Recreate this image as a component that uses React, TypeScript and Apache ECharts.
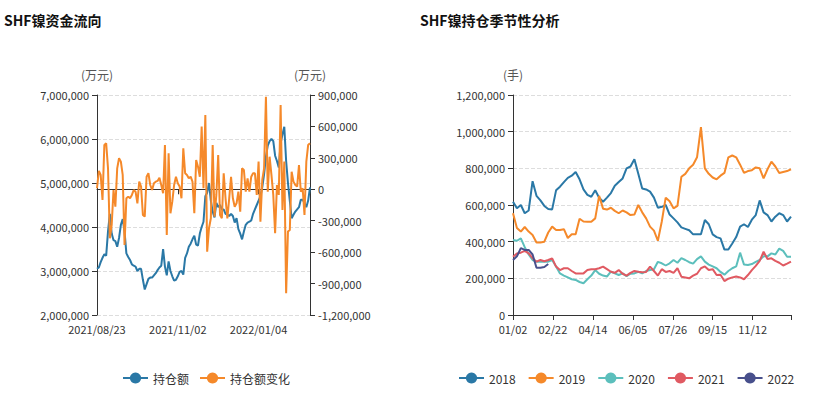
import React, { useEffect, useRef } from 'react';
import * as echarts from 'echarts';

const FONT = "'Noto Sans CJK SC', 'Noto Sans', sans-serif";

// ---------- Left chart: SHF镍资金流向 ----------
const flowStart = '2021-08-23';
const flowCount = 117;
const flowHolidays = [
  '2021-09-20', '2021-09-21', '2021-10-01', '2021-10-04', '2021-10-05', '2021-10-06', '2021-10-07',
  '2022-01-03', '2022-01-31', '2022-02-01', '2022-02-02', '2022-02-03', '2022-02-04',
];

// 持仓额 (万元, in millions)
const positionMillions = [
  3.05, 3.08, 3.2, 3.3, 3.38, 3.35, 3.9, 4.3, 3.85, 3.7,
  3.68, 3.55, 3.75, 4.05, 4.18, 3.9, 3.4, 3.32, 3.25, 3.15,
  3.12, 3.1, 3.0, 3.05, 3.05, 2.8, 2.58, 2.7, 2.82, 2.85,
  2.85, 2.9, 2.95, 3.02, 3.08, 3.12, 3.5, 3.1, 2.9, 3.22,
  3.0, 2.88, 2.78, 2.8, 2.88, 2.98, 3.0, 2.92, 3.3, 3.4,
  3.55, 3.62, 3.72, 3.8, 3.6, 3.58, 3.85, 4.0, 4.12, 4.7,
  4.78, 5.0, 4.6, 4.35, 4.22, 4.55, 4.45, 4.5, 4.4, 4.4,
  4.3, 4.28, 4.25, 4.3, 4.25, 4.1, 4.2, 3.95, 3.85, 3.72,
  3.9, 4.05, 4.1, 4.12, 4.15, 4.3, 4.4, 4.5, 4.6, 4.7,
  4.9, 5.2, 5.6, 5.85, 5.95, 6.0, 5.95, 5.62, 5.5, 5.35,
  5.9, 6.1, 6.28, 5.5, 5.0, 4.6, 4.2, 4.28, 4.35, 4.4,
  4.45, 4.62, 4.62, 4.55, 4.45, 4.6, 4.9,
];

// 持仓额变化 (万元, in thousands)
const changeThousands = [
  10, 175, 137, -102, 423, 439, 200, -468, -340, -7,
  -166, 200, 296, 264, 137, -531, -86, -70, -86, -54,
  -7, -23, -134, 73, 26, -245, -261, 120, 153, 41,
  -7, 57, 73, 80, 111, 41, -38, 423, -436, 343,
  -229, -118, 41, 120, 57, 26, -86, 391, 153, 137,
  105, 120, 73, -229, 280, 216, 120, 598, 10, 709,
  -595, -372, -277, 423, -261, -54, 327, -245, -277, 153,
  -86, -277, -86, 120, -86, -166, -134, -23, -213, 200,
  184, -23, 105, -23, 120, 153, 153, -54, 264, -309,
  89, 200, 884, -23, 311, 137, -54, -420, 41, -54,
  805, -197, 264, -993, -404, -388, 168, 73, 41, 26,
  232, -23, 10, -245, 264, 423, 440,
];

// ---------- Right chart: SHF镍持仓季节性分析 ----------
const seasonExcluded = ['01/01', '05/01', '10/01', '10/02', '10/03', '10/04', '10/05', '10/06', '10/07'];
const seasonSampleStep = 5;
const seasonYears = ['2018', '2019', '2020', '2021', '2022'];

// 持仓 (手, in thousands), one value every 5 categories
const hold2018 = [
  618, 582, 600, 555, 570, 730, 650, 625, 595, 578,
  576, 680, 700, 725, 748, 760, 780, 740, 685, 655,
  645, 680, 640, 618, 640, 665, 705, 725, 745, 800,
  810, 850, 770, 690, 685, 673, 640, 585, 590, 600,
  548, 527, 505, 478, 470, 462, 440, 440, 440, 518,
  495, 440, 425, 418, 357, 357, 390, 425, 482, 495,
  480, 520, 545, 625, 560, 545, 510, 536, 555, 545,
  510, 536,
];
const hold2019 = [
  555, 475, 455, 480, 455, 436, 395, 395, 400, 450,
  482, 464, 464, 468, 420, 440, 440, 525, 510, 509,
  509, 527, 650, 580, 575, 585, 568, 555, 570, 560,
  545, 548, 600, 560, 527, 482, 460, 405, 510, 640,
  620, 582, 595, 754, 770, 800, 820, 860, 1025, 800,
  770, 750, 740, 760, 775, 860, 870, 860, 820, 775,
  785, 790, 805, 800, 745, 795, 836, 810, 775, 780,
  785, 795,
];
const hold2020 = [
  409, 405, 418, 370, 330, 300, 291, 291, 291, 291,
  300, 264, 227, 215, 205, 195, 191, 180, 173, 195,
  215, 245, 225, 215, 210, 236, 227, 218, 227, 212,
  225, 227, 236, 227, 240, 245, 250, 290, 282, 270,
  282, 300, 285, 310, 300, 288, 280, 305, 320, 291,
  275, 265, 255, 235, 220, 240, 255, 265, 340, 275,
  273, 278, 290, 300, 320, 320, 336, 330, 362, 350,
  318, 318,
];
const hold2021 = [
  318, 336, 340, 350, 336, 310, 291, 300, 293, 300,
  309, 264, 245, 255, 255, 240, 227, 227, 227, 245,
  250, 250, 255, 264, 250, 236, 230, 245, 225, 215,
  230, 240, 236, 233, 235, 264, 240, 215, 250, 235,
  240, 230, 255, 209, 205, 200, 215, 225, 255, 265,
  245, 250, 218, 220, 185, 198, 205, 210, 205, 195,
  218, 245, 268, 295, 345, 305, 309, 295, 285, 270,
  280, 291,
];
const hold2022 = [300, 320, 365, 355, 355, 330, 258, 258, 262, 278];

const seasonColors = ['#2a78a6', '#f5892a', '#5cbfbc', '#e05a62', '#48508c'];

function pad(n: number) {
  return String(n).padStart(2, '0');
}

function tradingDays(start: string, count: number, holidays: string[]): string[] {
  const out: string[] = [];
  const d = new Date(start + 'T00:00:00Z');
  while (out.length < count) {
    const dow = d.getUTCDay();
    const y = d.getUTCFullYear();
    const m = pad(d.getUTCMonth() + 1);
    const dd = pad(d.getUTCDate());
    if (dow !== 0 && dow !== 6 && !holidays.includes(`${y}-${m}-${dd}`)) out.push(`${y}/${m}/${dd}`);
    d.setUTCDate(d.getUTCDate() + 1);
  }
  return out;
}

function seasonCategories(): string[] {
  const out: string[] = [];
  const d = new Date(Date.UTC(2021, 0, 1));
  while (d.getUTCFullYear() === 2021) {
    const md = `${pad(d.getUTCMonth() + 1)}/${pad(d.getUTCDate())}`;
    if (!seasonExcluded.includes(md)) out.push(md);
    d.setUTCDate(d.getUTCDate() + 1);
  }
  return out;
}

const fmt = (v: number) => v.toLocaleString('en-US');

export default function App() {
  const ref = useRef<HTMLDivElement>(null);

  useEffect(() => {
    document.body.style.margin = '0';
    if (!ref.current) return;
    const chart = echarts.init(ref.current, undefined, { renderer: 'svg' });

    const flowDates = tradingDays(flowStart, flowCount, flowHolidays);
    const seasonDates = seasonCategories();
    const holdSeries = [hold2018, hold2019, hold2020, hold2021, hold2022];

    const axisColor = '#333';
    const labelStyle = { color: '#333', fontSize: 11, fontFamily: FONT };
    const nameStyle = { color: '#555', fontSize: 12, fontFamily: FONT };
    const split = { show: true, lineStyle: { type: 'dashed' as const, color: '#ddd' } };
    const legendText = { color: '#333', fontSize: 12, fontFamily: FONT };

    const option: any = {
      animation: false,
      textStyle: { fontFamily: FONT },
      title: [
        { text: 'SHF镍资金流向', left: 4, top: 13, padding: 0, textStyle: { fontSize: 14, fontWeight: 'bold', color: '#111', fontFamily: FONT } },
        { text: 'SHF镍持仓季节性分析', left: 420, top: 13, padding: 0, textStyle: { fontSize: 14, fontWeight: 'bold', color: '#111', fontFamily: FONT } },
      ],
      legend: [
        { data: ['持仓额', '持仓额变化'], left: 122, top: 372, padding: 0, itemWidth: 25, itemHeight: 14, itemGap: 10, textStyle: legendText },
        { data: seasonYears, left: 458, top: 372, padding: 0, itemWidth: 25, itemHeight: 14, itemGap: 12, textStyle: legendText },
      ],
      grid: [
        { left: 97, top: 95, width: 213, height: 220 },
        { left: 513, top: 95, width: 278, height: 220 },
      ],
      xAxis: [
        {
          type: 'category', gridIndex: 0, data: flowDates, boundaryGap: false,
          axisLine: { show: true, onZero: true, onZeroAxisIndex: 1, lineStyle: { color: axisColor } },
          axisTick: { show: true, interval: 43, lineStyle: { color: axisColor } },
          axisLabel: { show: false }, splitLine: { show: false },
        },
        {
          type: 'category', gridIndex: 0, data: flowDates, boundaryGap: false, position: 'bottom',
          axisLine: { show: false, onZero: false }, axisTick: { show: false },
          axisLabel: { interval: 43, ...labelStyle }, splitLine: { show: false },
        },
        {
          type: 'category', gridIndex: 1, data: seasonDates, boundaryGap: false,
          axisLine: { show: true, onZero: false, lineStyle: { color: axisColor } },
          axisTick: { show: true, interval: (i: number) => i % 51 === 0 || i === seasonDates.length - 1, lineStyle: { color: axisColor } },
          axisLabel: { interval: 50, ...labelStyle }, splitLine: { show: false },
        },
      ],
      yAxis: [
        {
          type: 'value', gridIndex: 0, min: 2000000, max: 7000000, interval: 1000000,
          name: '(万元)', nameTextStyle: nameStyle,
          axisLine: { show: true, lineStyle: { color: axisColor } }, axisTick: { show: true, lineStyle: { color: axisColor } },
          axisLabel: { ...labelStyle, formatter: fmt }, splitLine: split,
        },
        {
          type: 'value', gridIndex: 0, position: 'right', min: -1200000, max: 900000, interval: 300000,
          name: '(万元)', nameTextStyle: nameStyle,
          axisLine: { show: true, onZero: false, lineStyle: { color: axisColor } }, axisTick: { show: true, lineStyle: { color: axisColor } },
          axisLabel: { ...labelStyle, formatter: fmt }, splitLine: { show: false },
        },
        {
          type: 'value', gridIndex: 1, min: 0, max: 1200000, interval: 200000,
          name: '(手)', nameTextStyle: nameStyle,
          axisLine: { show: true, lineStyle: { color: axisColor } }, axisTick: { show: true, lineStyle: { color: axisColor } },
          axisLabel: { ...labelStyle, formatter: fmt }, splitLine: split,
        },
      ],
      series: [
        {
          name: '持仓额', type: 'line', xAxisIndex: 0, yAxisIndex: 0,
          data: positionMillions.map((v) => Math.round(v * 1000000)),
          showSymbol: false, symbol: 'circle', symbolSize: 8,
          lineStyle: { width: 2, color: seasonColors[0] }, itemStyle: { color: seasonColors[0] },
        },
        {
          name: '持仓额变化', type: 'line', xAxisIndex: 0, yAxisIndex: 1,
          data: changeThousands.map((v) => v * 1000),
          showSymbol: false, symbol: 'circle', symbolSize: 8,
          lineStyle: { width: 2, color: seasonColors[1] }, itemStyle: { color: seasonColors[1] },
        },
        ...seasonYears.map((year, si) => ({
          name: year, type: 'line', xAxisIndex: 2, yAxisIndex: 2,
          data: holdSeries[si].map((v, k) => [seasonDates[k * seasonSampleStep], v * 1000]),
          showSymbol: false, symbol: 'circle', symbolSize: 8,
          lineStyle: { width: 2, color: seasonColors[si] }, itemStyle: { color: seasonColors[si] },
        })),
      ],
    };

    chart.setOption(option);
    return () => chart.dispose();
  }, []);

  return <div ref={ref} style={{ width: 817, height: 397 }} />;
}
